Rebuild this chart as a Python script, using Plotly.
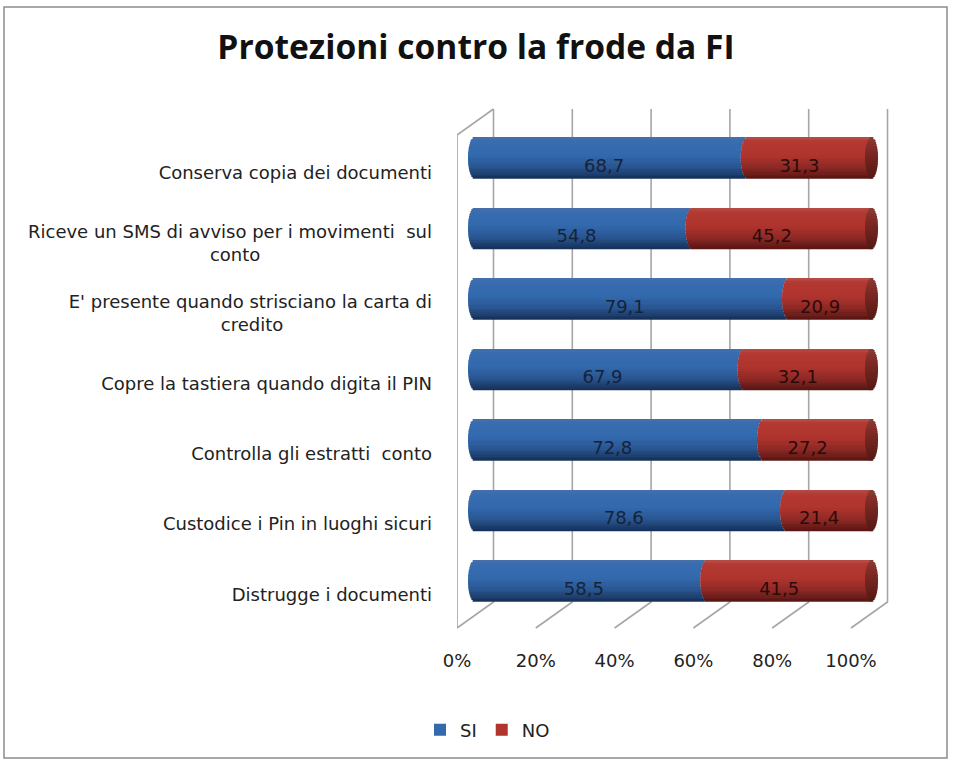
import math
import plotly.graph_objects as go

categories = [
    "Conserva copia dei documenti",
    "Riceve un SMS di avviso per i movimenti  sul<br>conto" + "\u00a0" * 30,
    "E' presente quando strisciano la carta di<br>credito" + "\u00a0" * 26,
    "Copre la tastiera quando digita il PIN",
    "Controlla gli estratti  conto",
    "Custodice i Pin in luoghi sicuri",
    "Distrugge i documenti",
]
si_values = [68.7, 54.8, 79.1, 67.9, 72.8, 78.6, 58.5]
no_values = [31.3, 45.2, 20.9, 32.1, 27.2, 21.4, 41.5]
x_ticks = [0, 20, 40, 60, 80, 100]
x_tick_labels = ["0%", "20%", "40%", "60%", "80%", "100%"]

W, H = 953, 760
L, R, T, B = 457, 900, 100, 640


def lerp(stops, u):
    for (a, ca), (b, cb) in zip(stops, stops[1:]):
        if a <= u <= b:
            f = (u - a) / (b - a)
            c = [round(p + (q - p) * f) for p, q in zip(ca, cb)]
            return f"rgb({c[0]},{c[1]},{c[2]})"
    return "rgb(0,0,0)"


blue_stops = [(0, (70, 112, 170)), (0.12, (56, 108, 176)), (0.45, (50, 104, 172)), (0.75, (40, 84, 142)), (1, (22, 48, 88))]
red_stops = [(0, (180, 80, 72)), (0.12, (180, 56, 50)), (0.45, (176, 52, 46)), (0.75, (140, 40, 36)), (1, (88, 22, 20))]
cap_stops = [(0, (140, 60, 54)), (0.3, (128, 42, 36)), (1, (84, 24, 20))]

# axis scales: px per percent for front plane (ticks) and bars
front_scale = 3.94
bar_x0, bar_scale = 474.5, 3.97
label_y0, label_step = 173, 70.2
bar_y0, bar_step = 158, 70.5

n = len(categories)
ys = list(range(n))
bar_w = 41 / bar_step
cap_a = 1.64  # ellipse half-width in percent
bands = 24

fig = go.Figure()

# 3D wall / floor gridlines, from the tick values
depth = 36.5 / front_scale
y_front_bot = (628 - label_y0) / label_step
y_back_bot = (602 - label_y0) / label_step
y_back_top = (109 - label_y0) / label_step
y_front_top = (135 - label_y0) / label_step
gx, gy = [], []
for t in x_ticks:
    gx += [t, t + depth, t + depth, None]
    gy += [y_front_bot, y_back_bot, y_back_top, None]
gx += [0, 0, depth]
gy += [y_front_bot, y_front_top, y_back_top]
fig.add_trace(go.Scatter(x=gx, y=gy, mode="lines", showlegend=False, hoverinfo="skip",
                         line=dict(color="#a6a6a6", width=1.6), xaxis="x", yaxis="y"))
# invisible trace so the category axis shows its labels
fig.add_trace(go.Scatter(x=[0] * n, y=ys, mode="markers", marker=dict(opacity=0, size=1),
                         showlegend=False, hoverinfo="skip", xaxis="x", yaxis="y"))

for k in range(bands):
    u0, u1 = k / bands, (k + 1) / bands
    um = (u0 + u1) / 2
    t = 2 * um - 1
    e = cap_a * math.sqrt(max(0, 1 - t * t))
    off = (u0 - 0.5) * bar_w
    wid = bar_w / bands * 1.12
    legend_band = k == bands // 3
    fig.add_trace(go.Bar(
        orientation="h", y=ys, x=list(si_values), base=[-e] * n,
        offset=off, width=wid, name="SI", showlegend=legend_band, legendrank=1,
        marker=dict(color=lerp(blue_stops, um), line=dict(width=0)),
        hoverinfo="skip", xaxis="x2", yaxis="y2"))
    fig.add_trace(go.Bar(
        orientation="h", y=ys, x=[v + e for v in no_values],
        base=[v - e for v in si_values],
        offset=off, width=wid, name="NO", showlegend=legend_band, legendrank=2,
        marker=dict(color=lerp(red_stops, um), line=dict(width=0)),
        hoverinfo="skip", xaxis="x2", yaxis="y2"))
    fig.add_trace(go.Bar(
        orientation="h", y=ys, x=[2 * e] * n, base=[s + v - e for s, v in zip(si_values, no_values)],
        offset=off, width=wid, showlegend=False,
        marker=dict(color=lerp(cap_stops, um), line=dict(width=0)),
        hoverinfo="skip", xaxis="x2", yaxis="y2"))

label_y = [i + 0.005 for i in ys]
fig.add_trace(go.Scatter(
    x=[s / 2 - 1.7 for s in si_values], y=label_y, mode="text", textposition="bottom center",
    text=[f"{v:.1f}".replace(".", ",") for v in si_values],
    textfont=dict(family="DejaVu Sans", size=18, color="#15233a"),
    showlegend=False, hoverinfo="skip", xaxis="x2", yaxis="y2"))
fig.add_trace(go.Scatter(
    x=[s + v / 2 - 2.5 for s, v in zip(si_values, no_values)], y=label_y, mode="text", textposition="bottom center",
    text=[f"{v:.1f}".replace(".", ",") for v in no_values],
    textfont=dict(family="DejaVu Sans", size=18, color="#2a0c0a"),
    showlegend=False, hoverinfo="skip", xaxis="x2", yaxis="y2"))

font = dict(family="DejaVu Sans", size=18, color="#222222")
pw, ph = R - L, B - T

fig.update_layout(
    width=W, height=H, autosize=False, barmode="overlay",
    margin=dict(l=L, r=W - R, t=T, b=H - B),
    paper_bgcolor="white", plot_bgcolor="rgba(0,0,0,0)",
    title=dict(text="<b>Protezioni contro la frode da FI</b>", x=476 / W, xanchor="center",
               y=1 - 47 / H, yanchor="middle",
               font=dict(family="Open Sans", size=33.6, color="#111111")),
    xaxis=dict(range=[0, pw / front_scale], tickvals=x_ticks, ticktext=x_tick_labels, showgrid=False,
               zeroline=False, showline=False, ticks="", tickfont=font, ticklabelstandoff=8),
    yaxis=dict(range=[(B - label_y0) / label_step, (T - label_y0) / label_step],
               tickvals=ys, ticktext=categories, showgrid=False, zeroline=False, showline=False,
               ticks="", tickfont=font, ticklabelstandoff=24),
    xaxis2=dict(range=[(L - bar_x0) / bar_scale, (R - bar_x0) / bar_scale], overlaying="x",
                side="top", visible=False),
    yaxis2=dict(range=[(B - bar_y0) / bar_step, (T - bar_y0) / bar_step], overlaying="y",
                side="right", visible=False),
    legend=dict(orientation="h", x=(420 - L) / pw, xanchor="left", y=1 - (730 - T) / ph, yanchor="middle",
                font=font, bgcolor="rgba(0,0,0,0)", itemsizing="constant", traceorder="normal"),
    shapes=[dict(type="rect", xref="paper", yref="paper", layer="below",
                 x0=(4 - L) / pw, x1=(947 - L) / pw, y0=1 - (758 - T) / ph, y1=1 - (7 - T) / ph,
                 line=dict(color="#8c8c8c", width=1.5))],
)
fig.write_html("out.html", post_script="document.body.style.margin='0';",
               config=dict(displayModeBar=False))
